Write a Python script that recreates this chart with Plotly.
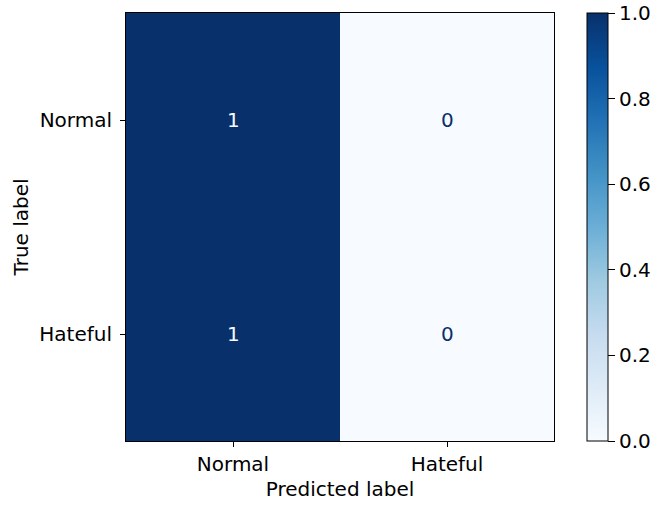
import plotly.graph_objects as go

# Confusion matrix (rows: true label, columns: predicted label)
class_labels = ["Normal", "Hateful"]
cm_values = [[1, 0],
             [1, 0]]
cbar_ticks = [0.0, 0.2, 0.4, 0.6, 0.8, 1.0]

# Matplotlib "Blues" colormap
blues = [
    [0.000, "#f7fbff"], [0.125, "#deebf7"], [0.250, "#c6dbef"],
    [0.375, "#9ecae1"], [0.500, "#6baed6"], [0.625, "#4292c6"],
    [0.750, "#2171b5"], [0.875, "#08519c"], [1.000, "#08306b"],
]

FONT = "DejaVu Sans"
FS = 20

W, H = 659, 506
L, R, T, B = 126, 10, 13, 65
paper_w = W - L - R
heat_w = 428          # width of the matrix area in pixels
cbar_left = 587       # left edge of the colour bar in pixels

fig = go.Figure()
fig.add_trace(go.Heatmap(
    z=cm_values, x=class_labels, y=class_labels,
    colorscale=blues, zmin=0, zmax=1,
    xgap=0, ygap=0,
    hoverinfo="skip",
    colorbar=dict(
        x=(cbar_left - L) / paper_w, xanchor="left", xpad=0,
        y=0.5, yanchor="middle", ypad=0,
        len=1, lenmode="fraction",
        thickness=21, thicknessmode="pixels",
        outlinewidth=1, outlinecolor="black",
        tickvals=cbar_ticks,
        ticktext=[f"{v:.1f}" for v in cbar_ticks],
        ticks="outside", ticklen=7, tickwidth=1, tickcolor="black",
        tickfont=dict(family=FONT, size=FS, color="black"),
    ),
))

# Cell value labels: light text on dark cells, dark text on light cells
zmax = max(max(r) for r in cm_values)
for i, row in enumerate(cm_values):
    for j, v in enumerate(row):
        fig.add_annotation(
            x=class_labels[j], y=class_labels[i], text=str(v),
            showarrow=False,
            font=dict(family=FONT, size=FS,
                      color="#f7fbff" if v > zmax / 2 else "#08306b"),
        )

axis_common = dict(
    showline=True, linecolor="black", linewidth=1, mirror=True,
    ticks="outside", ticklen=5, tickwidth=1, tickcolor="black",
    tickfont=dict(family=FONT, size=FS, color="black"),
    showgrid=False, zeroline=False, automargin=False,
)

fig.update_layout(
    width=W, height=H,
    margin=dict(l=L, r=R, t=T, b=B, autoexpand=False),
    paper_bgcolor="white", plot_bgcolor="white",
    font=dict(family=FONT, size=FS, color="black"),
    xaxis=dict(**axis_common, domain=[0, heat_w / paper_w],
               ticklabelstandoff=0,
               title=dict(text="Predicted label", standoff=6,
                          font=dict(family=FONT, size=FS, color="black"))),
    yaxis=dict(**axis_common, autorange="reversed", ticklabelstandoff=4,
               title=dict(text="True label", standoff=5,
                          font=dict(family=FONT, size=FS, color="black"))),
)

fig.write_html("out.html")
